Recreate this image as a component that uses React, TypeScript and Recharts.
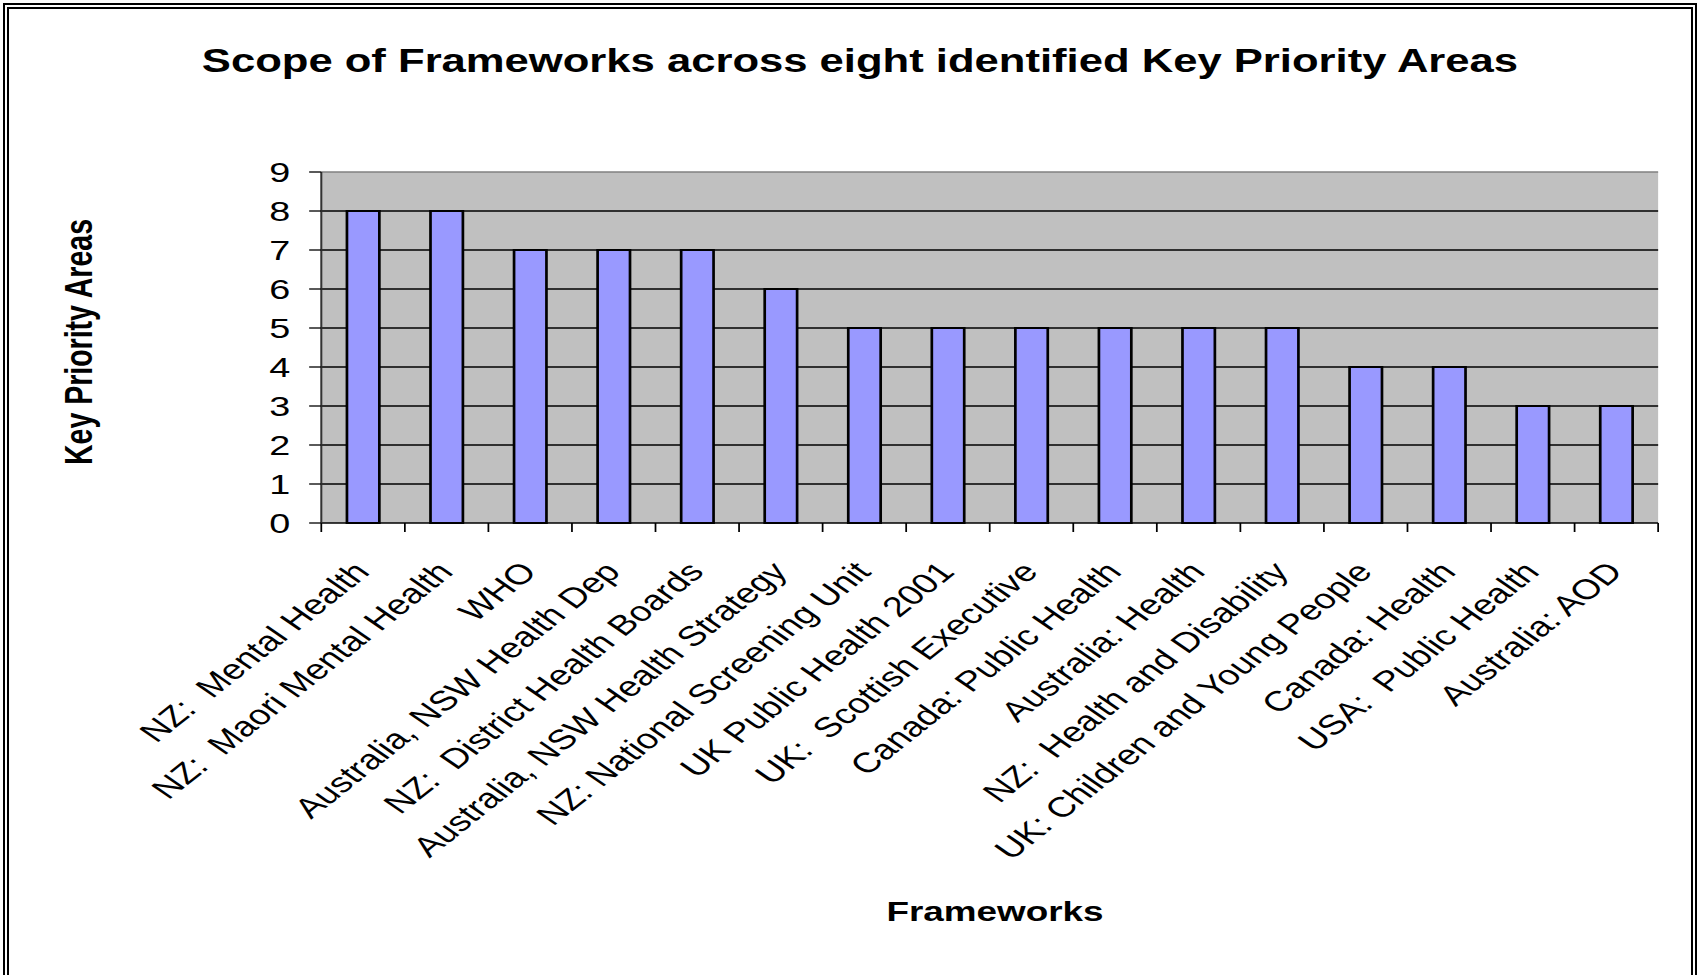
import {
  Bar,
  BarChart,
  CartesianGrid,
  ReferenceLine,
  XAxis,
  YAxis
} from 'recharts'

const frameworks = [
  'NZ:  Mental Health',
  'NZ:  Maori Mental Health',
  'WHO',
  'Australia, NSW Health Dep',
  'NZ:  District Health Boards',
  'Australia, NSW Health Strategy',
  'NZ: National Screening Unit',
  'UK Public Health 2001',
  'UK:  Scottish Executive',
  'Canada: Public Health',
  'Australia: Health',
  'NZ:  Health and Disability',
  'UK: Children and Young People',
  'Canada: Health',
  'USA:  Public Health',
  'Australia: AOD'
]
const priorityAreas = [8, 8, 7, 7, 7, 6, 5, 5, 5, 5, 5, 5, 4, 4, 3, 3]
const yTicks = [0, 1, 2, 3, 4, 5, 6, 7, 8, 9]
const gridValues = [1, 2, 3, 4, 5, 6, 7, 8]
const boundaryTicks = frameworks.map((_, i) => i).concat(frameworks.length)

const chartTitle = 'Scope of Frameworks across eight identified Key Priority Areas'
const xTitle = 'Frameworks'
const yTitle = 'Key Priority Areas'

const data = frameworks.map((name, i) => ({ name, idx: i, areas: priorityAreas[i] }))

// the whole chart is drawn narrow and stretched sideways
const STRETCH = 1.35
const W = 1700 / STRETCH
const H = 975
const FONT = '"Liberation Sans", Arial, sans-serif'

const FrameworkTick = ({ x, y, payload }: any) => {
  const tx = x + 6
  const ty = y + 40
  return (
    <text
      x={tx}
      y={ty}
      transform={`rotate(-47, ${tx}, ${ty})`}
      textAnchor="end"
      fontSize={28}
      fontFamily={FONT}
      fill="#000"
      style={{ whiteSpace: 'pre' }}
    >
      {payload.value}
    </text>
  )
}

// boundary ticks only: the tick line is drawn, no text
const NoLabel = () => <g />

export default function App() {
  return (
    <div
      style={{
        position: 'fixed',
        left: 0,
        top: 0,
        width: 1700,
        height: 975,
        overflow: 'hidden',
        background: '#fff',
        fontFamily: FONT
      }}
    >
      <div
        style={{
          position: 'absolute',
          left: 3,
          top: 3,
          width: 1694,
          height: 1100,
          border: '6px double #000',
          boxSizing: 'border-box'
        }}
      />
      <div
        style={{
          position: 'absolute',
          left: 0,
          top: 0,
          width: W,
          height: H,
          transform: `scaleX(${STRETCH})`,
          transformOrigin: '0 0'
        }}
      >
        <BarChart
          width={W}
          height={H}
          data={data}
          margin={{ top: 172, right: 31, bottom: 142, left: 0 }}
        >
          <CartesianGrid
            xAxisId="b"
            yAxisId="left"
            fill="#C0C0C0"
            stroke="#000"
            strokeWidth={1.3}
            vertical={false}
            horizontalValues={gridValues}
          />
          <XAxis
            xAxisId="b"
            dataKey="name"
            interval={0}
            height={300}
            axisLine={false}
            tickLine={false}
            tickSize={0}
            tickMargin={0}
            tick={<FrameworkTick />}
          />
          <XAxis
            xAxisId="a"
            dataKey="idx"
            type="number"
            domain={[0, frameworks.length]}
            allowDataOverflow
            ticks={boundaryTicks}
            interval={0}
            height={10}
            tick={<NoLabel />}
            tickSize={9}
            stroke="#000"
            axisLine={{ stroke: '#000', strokeWidth: 1.5 }}
            tickLine={{ stroke: '#000', strokeWidth: 1.3 }}
          />
          <YAxis
            yAxisId="left"
            domain={[0, 9]}
            ticks={yTicks}
            interval={0}
            width={238}
            tickSize={9}
            tickMargin={14}
            axisLine={{ stroke: '#333', strokeWidth: 1.5 }}
            tickLine={{ stroke: '#000', strokeWidth: 1.3 }}
            tick={{ fontSize: 28, fill: '#000', fontFamily: FONT }}
          />
          <YAxis
            yAxisId="right"
            orientation="right"
            domain={[0, 9]}
            width={0}
            tick={false}
            tickLine={false}
            axisLine={{ stroke: '#808080', strokeWidth: 1.5 }}
          />
          <ReferenceLine
            xAxisId="b"
            yAxisId="left"
            y={9}
            stroke="#808080"
            strokeWidth={1.5}
          />
          <Bar
            xAxisId="b"
            yAxisId="left"
            dataKey="areas"
            fill="#9999FF"
            stroke="#000"
            strokeWidth={2}
            barSize={24}
            isAnimationActive={false}
          />
        </BarChart>
        <svg
          width={W}
          height={H}
          style={{ position: 'absolute', left: 0, top: 0, pointerEvents: 'none' }}
        >
          <text
            x={637}
            y={72}
            textAnchor="middle"
            fontSize={32.3}
            fontWeight="bold"
            fontFamily={FONT}
            fill="#000"
          >
            {chartTitle}
          </text>
          <text
            x={737}
            y={921}
            textAnchor="middle"
            fontSize={27.3}
            fontWeight="bold"
            fontFamily={FONT}
            fill="#000"
          >
            {xTitle}
          </text>
          <text
            x={68}
            y={342}
            transform="rotate(-90, 68, 342)"
            textAnchor="middle"
            fontSize={28.5}
            fontWeight="bold"
            fontFamily={FONT}
            fill="#000"
          >
            {yTitle}
          </text>
        </svg>
      </div>
    </div>
  )
}
